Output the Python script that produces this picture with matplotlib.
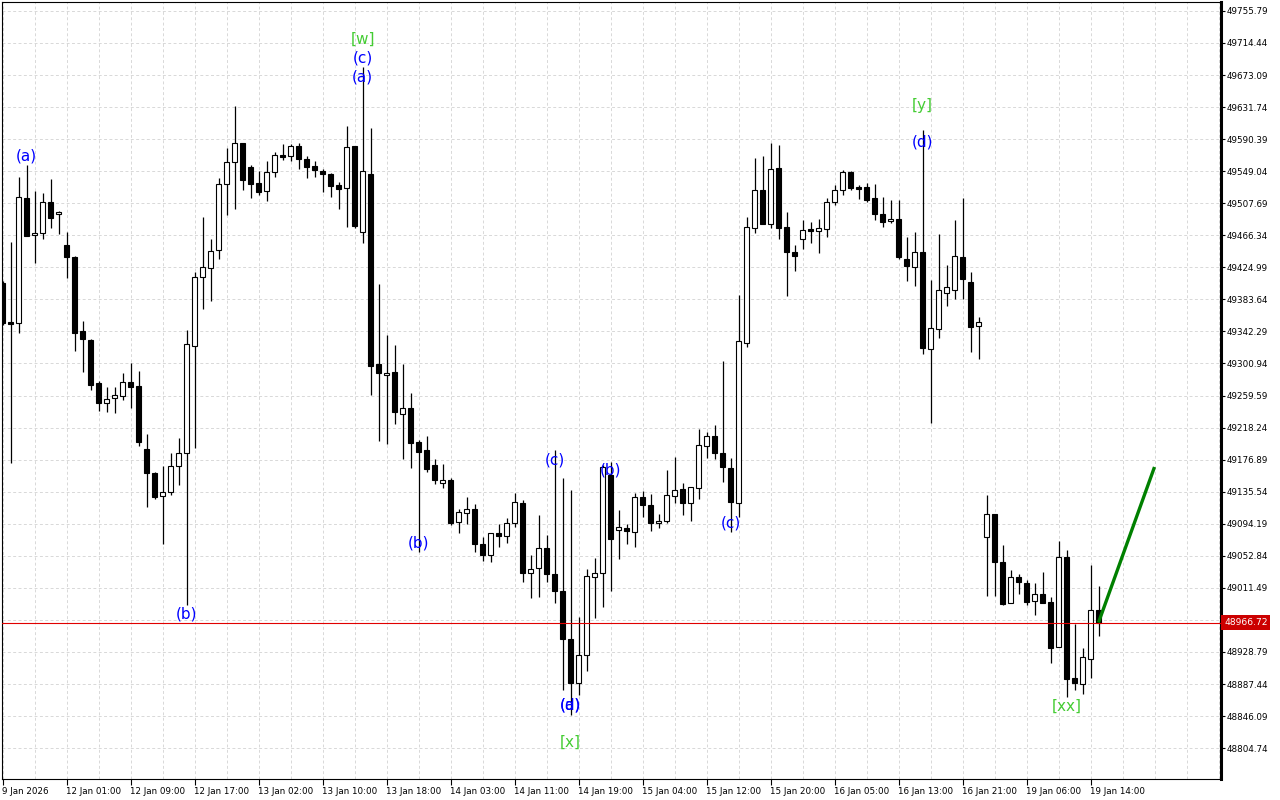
import matplotlib
matplotlib.use("Agg")
import matplotlib.pyplot as plt

# hourly candles
opens = [49404.8, 49354.5, 49353.6, 49514.1, 49466.3, 49468.9, 49509.3, 49493.8, 49453.4, 49438.3,
         49342.5, 49331.3, 49275.4, 49249.6, 49256.1, 49258.6, 49276.7, 49271.5, 49190.3, 49160.1,
         49130.0, 49134.8, 49168.7, 49185.1, 49323.9, 49412.9, 49423.8, 49447.0, 49532.1, 49560.5,
         49585.4, 49554.1, 49533.4, 49523.5, 49547.6, 49569.9, 49568.3, 49581.6, 49564.4, 49555.8,
         49549.7, 49545.0, 49531.2, 49527.0, 49581.6, 49471.0, 49545.0, 49299.9, 49285.7, 49290.0,
         49235.4, 49243.1, 49199.7, 49189.3, 49169.6, 49147.2, 49150.6, 49096.1, 49107.7, 49112.8,
         49067.7, 49053.5, 49081.9, 49078.0, 49095.6, 49120.6, 49030.3, 49036.7, 49062.5, 49029.0,
         49007.4, 48945.1, 48888.3, 48924.9, 49025.1, 49030.3, 49157.1, 49086.1, 49088.7, 49083.2,
         49128.3, 49118.0, 49094.8, 49097.4, 49130.0, 49138.6, 49120.6, 49139.9, 49194.5, 49207.4,
         49185.9, 49165.7, 49120.6, 49327.0, 49475.4, 49524.4, 49480.5, 49552.8, 49476.7, 49444.8,
         49461.2, 49474.1, 49472.3, 49474.1, 49508.9, 49524.4, 49547.6, 49528.7, 49528.7, 49514.1,
         49493.8, 49484.4, 49487.4, 49435.8, 49425.1, 49444.8, 49319.3, 49345.1, 49391.5, 49395.4,
         49438.7, 49405.7, 49349.3, 49076.7, 49106.8, 49044.5, 48991.6, 49025.1, 49017.4, 48994.1,
         49003.2, 48992.9, 48935.6, 49050.9, 48894.8, 48887.1, 48920.1, 48982.5]
highs = [49407.4, 49457.7, 49541.2, 49557.0, 49523.5, 49520.5, 49538.6, 49498.1, 49470.2, 49439.6,
         49355.8, 49332.6, 49278.4, 49270.6, 49271.0, 49288.3, 49301.6, 49291.3, 49210.0, 49161.4,
         49168.7, 49185.1, 49204.4, 49343.8, 49418.6, 49490.3, 49461.6, 49539.9, 49578.6, 49633.2,
         49585.4, 49556.7, 49549.3, 49562.2, 49573.8, 49584.1, 49584.1, 49585.8, 49568.3, 49562.2,
         49552.3, 49546.7, 49535.1, 49607.4, 49581.6, 49683.5, 49604.4, 49403.5, 49337.7, 49324.8,
         49300.3, 49262.5, 49202.3, 49207.0, 49177.4, 49170.9, 49152.8, 49112.8, 49128.3, 49119.3,
         49077.5, 49082.7, 49093.9, 49101.2, 49134.3, 49124.8, 49053.9, 49105.5, 49079.3, 49189.3,
         49153.2, 49137.7, 48973.9, 49035.4, 49049.6, 49170.0, 49174.3, 49111.9, 49093.5, 49133.5,
         49136.8, 49132.2, 49106.8, 49163.5, 49179.9, 49146.4, 49141.2, 49216.1, 49213.0, 49222.2,
         49304.2, 49178.6, 49389.3, 49490.0, 49566.5, 49569.0, 49585.8, 49582.9, 49496.0, 49453.8,
         49486.1, 49483.5, 49487.4, 49514.1, 49531.2, 49550.6, 49549.7, 49531.2, 49533.4, 49532.5,
         49516.1, 49511.9, 49511.9, 49463.8, 49470.6, 49602.2, 49408.7, 49468.0, 49428.0, 49486.1,
         49514.5, 49419.0, 49360.6, 49131.3, 49106.8, 49066.4, 49034.5, 49029.8, 49021.6, 49017.4,
         49031.6, 48999.3, 49071.9, 49060.3, 48964.9, 48933.5, 49040.6, 49013.9]
lows = [49350.6, 49172.6, 49339.9, 49465.8, 49431.0, 49461.2, 49476.2, 49468.0, 49410.9, 49317.5,
        49289.6, 49266.4, 49240.1, 49238.8, 49237.5, 49253.5, 49243.1, 49194.9, 49116.2, 49126.5,
        49068.1, 49130.9, 49144.6, 48989.4, 49191.5, 49371.7, 49382.0, 49436.2, 49492.9, 49500.7,
        49525.2, 49514.9, 49518.7, 49511.0, 49542.0, 49563.5, 49562.6, 49552.3, 49540.7, 49542.0,
        49522.6, 49516.1, 49499.9, 49477.4, 49476.2, 49456.8, 49260.3, 49201.3, 49196.7, 49222.5,
        49177.4, 49165.7, 49058.1, 49160.6, 49145.1, 49140.7, 49092.6, 49081.9, 49093.5, 49057.8,
        49046.5, 49045.2, 49064.6, 49069.0, 49089.6, 49018.7, 48998.8, 49000.1, 49018.7, 48992.3,
        48879.7, 48847.5, 48873.3, 48904.6, 48972.2, 48986.4, 49007.8, 49048.3, 49067.7, 49064.6,
        49102.5, 49085.2, 49089.1, 49094.8, 49120.6, 49105.1, 49098.1, 49126.5, 49179.0, 49177.4,
        49148.5, 49083.2, 49102.3, 49322.6, 49469.0, 49481.3, 49476.2, 49461.2, 49388.4, 49420.7,
        49448.7, 49456.8, 49443.9, 49464.5, 49505.4, 49518.3, 49524.8, 49513.2, 49508.9, 49486.1,
        49477.4, 49482.6, 49435.4, 49407.8, 49401.3, 49312.8, 49224.6, 49334.2, 49375.5, 49384.6,
        49384.6, 49315.4, 49306.4, 49001.4, 49001.0, 48989.8, 48991.6, 49004.0, 48989.8, 48976.9,
        48991.6, 48914.9, 48935.6, 48870.3, 48879.7, 48874.2, 48895.6, 48949.8]
closes = [49353.2, 49352.5, 49515.4, 49465.8, 49468.9, 49508.9, 49489.1, 49496.4, 49438.0, 49340.7,
          49332.2, 49273.6, 49249.6, 49254.8, 49259.9, 49276.7, 49271.0, 49200.1, 49159.3, 49129.1,
          49135.2, 49168.3, 49185.1, 49325.7, 49412.2, 49425.1, 49446.5, 49532.1, 49560.5, 49585.0,
          49538.1, 49532.9, 49522.6, 49547.6, 49569.6, 49567.4, 49581.2, 49565.2, 49554.9, 49551.0,
          49545.8, 49530.3, 49526.5, 49579.9, 49478.7, 49548.9, 49298.1, 49288.3, 49288.3, 49238.8,
          49243.1, 49198.8, 49187.2, 49165.2, 49150.3, 49150.3, 49095.2, 49109.0, 49112.8, 49067.7,
          49053.5, 49081.9, 49078.0, 49095.6, 49121.9, 49030.3, 49036.2, 49062.5, 49029.0, 49007.8,
          48945.9, 48888.3, 48924.9, 49026.4, 49030.3, 49167.8, 49074.1, 49089.6, 49084.5, 49128.3,
          49118.0, 49094.8, 49097.4, 49130.9, 49137.7, 49120.6, 49141.2, 49195.4, 49207.0, 49185.1,
          49166.8, 49121.9, 49330.0, 49476.7, 49524.4, 49481.3, 49551.5, 49476.2, 49445.2, 49440.0,
          49473.2, 49471.5, 49475.4, 49509.3, 49524.4, 49547.6, 49527.8, 49526.5, 49511.9, 49494.2,
          49483.9, 49487.0, 49438.7, 49427.1, 49444.8, 49321.3, 49346.4, 49395.4, 49399.6, 49439.6,
          49409.6, 49347.7, 49354.5, 49106.8, 49044.5, 48990.7, 49025.1, 49018.7, 48993.6, 49003.2,
          48991.6, 48934.3, 49050.9, 48894.3, 48888.3, 48921.9, 48982.5, 48966.72]

# time axis labels (every 8th bar)
time_labels = ["9 Jan 2026", "12 Jan 01:00", "12 Jan 09:00", "12 Jan 17:00", "13 Jan 02:00",
               "13 Jan 10:00", "13 Jan 18:00", "14 Jan 03:00", "14 Jan 11:00", "14 Jan 19:00",
               "15 Jan 04:00", "15 Jan 12:00", "15 Jan 20:00", "16 Jan 05:00", "16 Jan 13:00",
               "16 Jan 21:00", "19 Jan 06:00", "19 Jan 14:00"]

price_levels = [48804.74, 48846.09, 48887.44, 48928.79, 48970.14, 49011.49, 49052.84, 49094.19,
                49135.54, 49176.89, 49218.24, 49259.59, 49300.94, 49342.29, 49383.64, 49424.99,
                49466.34, 49507.69, 49549.04, 49590.39, 49631.74, 49673.09, 49714.44, 49755.79]

bid = 48966.72

# wave labels: (bar, price, text, colour)
wave_bar = [3, 23, 45, 45, 45, 52, 69, 76, 71, 71, 71, 91, 115, 115, 133]
wave_price = [49568.6, 48977.8, 49719.6, 49695.1, 49670.6, 49069.4, 49176.4, 49163.5,
              48860.4, 48860.4, 48812.6, 49095.2, 49633.2, 49586.7, 48859.1]
wave_text = ["(a)", "(b)", "[w]", "(c)", "(a)", "(b)", "(c)", "(b)",
             "(a)", "(d)", "[x]", "(c)", "[y]", "(d)", "[xx]"]
wave_color = ["blue", "blue", "lime", "blue", "blue", "blue", "blue", "blue",
              "blue", "blue", "lime", "blue", "lime", "blue", "lime"]

# projection line
proj_bars = [137, 144]
proj_prices = [48966.72, 49167.4]

fig = plt.figure(figsize=(12.8, 8), dpi=100)
ax = fig.add_axes([2 / 1280, 21 / 800, 1219 / 1280, 777 / 800])

n = len(opens)
xs = list(range(n))
ax.vlines(xs, lows, highs, color="black", linewidth=0.9, zorder=2)
for i in xs:
    o, c = opens[i], closes[i]
    fill = "white" if c >= o else "black"
    ax.bar(i, abs(c - o), width=0.55, bottom=min(o, c), color=fill,
           edgecolor="black", linewidth=0.8, zorder=3)

ax.axhline(bid, color="#e00000", linewidth=0.8, zorder=4)
ax.plot(proj_bars, proj_prices, color="#008000", linewidth=2.4, zorder=5,
        solid_capstyle="butt")

for b, p, t, col in zip(wave_bar, wave_price, wave_text, wave_color):
    c = "#0000ff" if col == "blue" else "#44cc33"
    ax.text(b, p, t, color=c, fontsize=11, ha="center", va="center", zorder=6)

ax.set_xlim((2 - 2.5) / 8, (1221 - 2.5) / 8)
ax.set_ylim(48764.9, 49767.3)

# grid
ax.set_xticks(range(0, n, 8))
ax.set_xticks(range(0, 153, 4), minor=True)
ax.set_xticklabels(time_labels, ha="left", fontsize=6.3)
ax.set_yticks([p for p in price_levels if p != 48970.14])
ax.set_yticklabels(["%.2f" % p for p in price_levels if p != 48970.14], fontsize=6.3)
ax.yaxis.tick_right()
ax.tick_params(axis="y", direction="out", length=3, width=0.8, pad=1)
ax.tick_params(axis="x", which="major", direction="out", length=4, width=0.8, pad=2)
ax.tick_params(axis="x", which="minor", length=0)
for p in price_levels:
    ax.axhline(p, color="#d8d8d8", linewidth=0.7, linestyle=(0, (3, 2.5)), zorder=1)
ax.grid(axis="x", which="both", color="#d8d8d8", linewidth=0.7, linestyle=(0, (3, 2.5)))
ax.set_axisbelow(True)

for s in ["top", "left", "bottom"]:
    ax.spines[s].set_linewidth(0.8)
ax.spines["right"].set_linewidth(2.2)

ax.text(1.0025, (bid - 48764.9) / (49767.3 - 48764.9), "%.2f" % bid, transform=ax.transAxes,
        fontsize=6.6, color="white", ha="left", va="center", zorder=7, clip_on=False,
        bbox=dict(boxstyle="square,pad=0.3", facecolor="#cc0000", edgecolor="none"))

fig.savefig("out.png", dpi=100)
